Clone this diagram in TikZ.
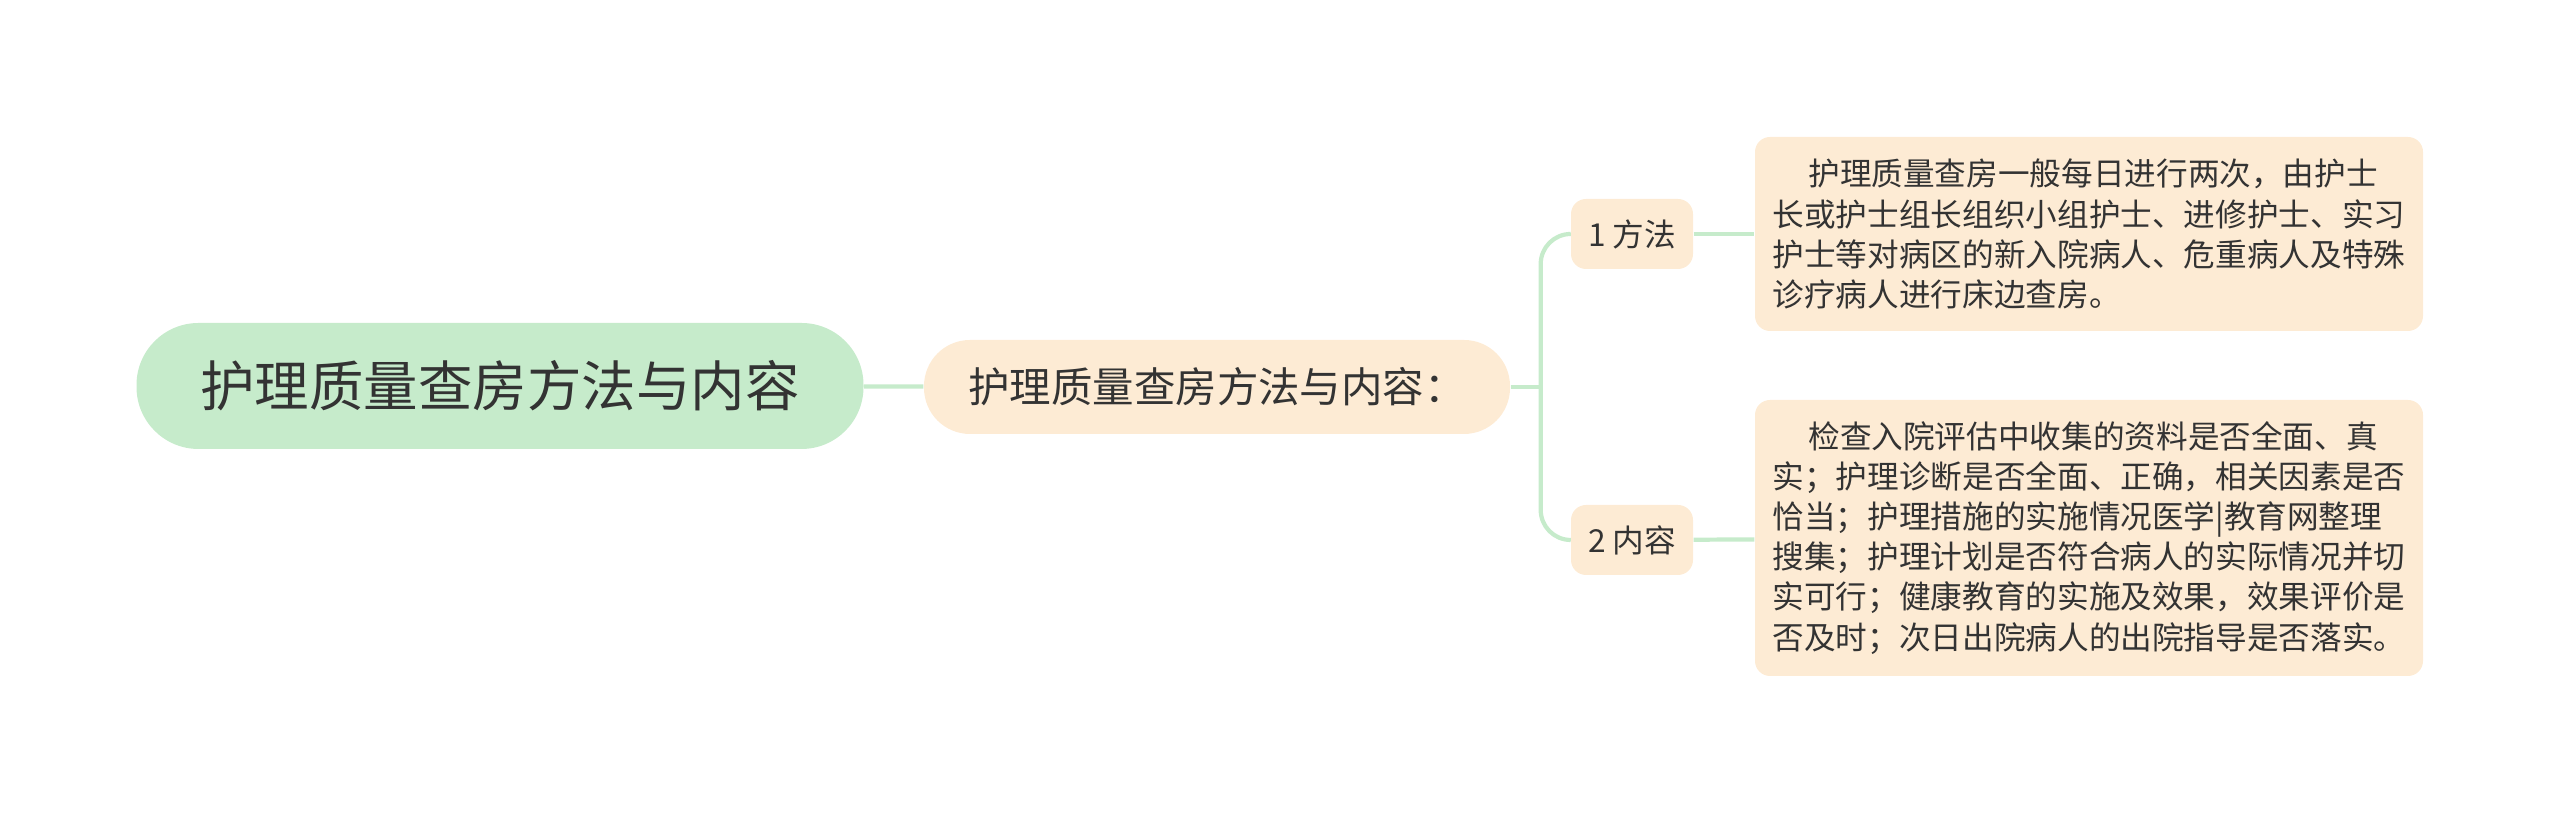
\documentclass[tikz,border=0pt]{standalone}
\usepackage{fontspec}
\setmainfont{Noto Sans CJK SC}
\definecolor{rootgreen}{HTML}{C6EBCB}
\definecolor{peach}{HTML}{FDEBD4}
\definecolor{linkgreen}{HTML}{C6EBCB}
\definecolor{ink}{HTML}{333333}
\begin{document}
\begin{tikzpicture}[
  link/.style={draw=linkgreen, line width=1.2pt},
  rootbox/.style={fill=rootgreen, text=ink, inner sep=0pt, rounded corners=0.62cm,
    minimum width=7.27cm, minimum height=1.26cm, font=\fontsize{15.5}{18}\selectfont},
  topicbox/.style={fill=peach, text=ink, inner sep=0pt, rounded corners=0.46cm,
    minimum width=5.86cm, minimum height=0.94cm, font=\fontsize{11.8}{14}\selectfont},
  subbox/.style={fill=peach, text=ink, inner sep=0pt, rounded corners=0.15cm,
    minimum width=1.22cm, minimum height=0.70cm, font=\fontsize{9}{11}\selectfont},
  notebox/.style={fill=peach, text=ink, inner sep=0pt, rounded corners=0.15cm, align=left,
    minimum width=6.68cm, font=\fontsize{9}{11.4}\selectfont}
]
\useasboundingbox (0,0) rectangle (25.6,8.15);
\node[rootbox] (root) at (5.00,4.29) {护理质量查房方法与内容};
\node[topicbox] (topic) at (12.17,4.28) {护理质量查房方法与内容：};
\node[subbox] (s1) at (16.32,5.81) {1 方法};
\node[subbox] (s2) at (16.32,2.75) {2 内容};
\node[notebox, minimum height=1.94cm] (t1) at (20.89,5.81) {\hspace*{1.13em}护理质量查房一般每日进行两次，由护士\\长或护士组长组织小组护士、进修护士、实习\\护士等对病区的新入院病人、危重病人及特殊\\诊疗病人进行床边查房。};
\node[notebox, minimum height=2.76cm] (t2) at (20.89,2.77) {\hspace*{1.13em}检查入院评估中收集的资料是否全面、真\\实；护理诊断是否全面、正确，相关因素是否\\恰当；护理措施的实施情况医学|教育网整理\\搜集；护理计划是否符合病人的实际情况并切\\实可行；健康教育的实施及效果，效果评价是\\否及时；次日出院病人的出院指导是否落实。};
\draw[link] (root) -- (topic);
\draw[link] (topic.east) -- ++(0.3,0) coordinate (fork);
\draw[link, rounded corners=0.3cm] (fork) |- (s1.west);
\draw[link, rounded corners=0.3cm] (fork) |- (s2.west);
\draw[link] (s1) -- (t1);
\draw[link] (s2) -- (t2);
\end{tikzpicture}
\end{document}
